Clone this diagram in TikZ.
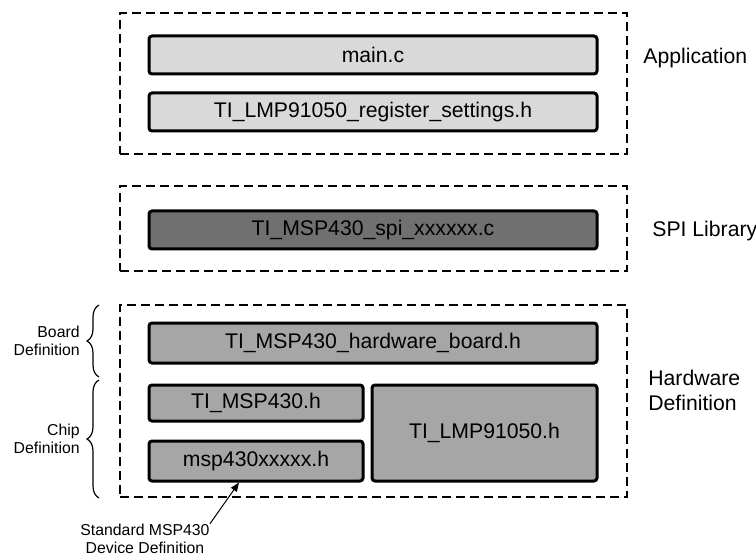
\documentclass[tikz,border=0pt]{standalone}
\usepackage{fontspec}
\setmainfont{Liberation Sans}
\usepackage{xcolor}
\usepackage{tikz}
\usetikzlibrary{arrows.meta, positioning, decorations.pathreplacing, calc}

\definecolor{appgray}{HTML}{D9D9D9}
\definecolor{spigray}{HTML}{707070}
\definecolor{hwgray}{HTML}{A6A6A6}

\begin{document}
\begin{tikzpicture}[x=0.5pt, y=-0.5pt,
        group/.style={draw, line width=1pt, dash pattern=on 4.5pt off 2.5pt, minimum width=253.5pt, inner sep=0pt},
        file/.style={draw, line width=1.5pt, rounded corners=1.5pt, minimum width=224pt, minimum height=19pt, inner sep=0pt, font=\fontsize{10.6}{12.5}\selectfont},
        layer/.style={anchor=west, align=left, inner sep=0pt, font=\fontsize{10.6}{12.5}\selectfont},
        side/.style={anchor=east, align=right, inner sep=0pt, font=\fontsize{7.9}{9}\selectfont},
        curly/.style={decorate, decoration={brace, amplitude=6pt}, line width=0.6pt}]
        \useasboundingbox (0,0) rectangle (756,556);

        % --- Application ---
        \node[group, minimum height=70.5pt] (app) at (373.5, 83.5) {};
        \node[file, fill=appgray] (mainc) at (373, 55) {main.c};
        \node[file, fill=appgray] (regset) at (373, 112) {TI\_LMP91050\_register\_settings.h};
        \node[layer] (applbl) at (643, 58) {Application};

        % --- SPI Library ---
        \node[group, minimum height=42.5pt] (spi) at (373.5, 228.5) {};
        \node[file, fill=spigray] (spifile) at (373, 230) {TI\_MSP430\_spi\_xxxxxx.c};
        \node[layer] (spilbl) at (652, 231) {SPI Library};

        % --- Hardware Definition ---
        \node[group, minimum height=96pt] (hw) at (373, 401) {};
        \node[file, fill=hwgray, minimum height=20pt] (board) at (373, 343) {TI\_MSP430\_hardware\_board.h};
        \node[file, fill=hwgray, minimum width=107pt, minimum height=18pt] (msphdr) at (256, 403) {TI\_MSP430.h};
        \node[file, fill=hwgray, minimum width=107pt, minimum height=20pt] (mspdev) at (256, 461) {msp430xxxxx.h};
        \node[file, fill=hwgray, minimum width=112.5pt, minimum height=48pt] (lmp) at (484.5, 433) {TI\_LMP91050.h};
        \node[layer] (hwlbl) at (648, 390) {Hardware\\Definition};

        % Braces on the left
        \draw[curly] (99, 377) -- (99, 305);
        \node[side] (boardlbl) at (80, 341) {Board\\Definition};
        \draw[curly] (99, 498) -- (99, 380);
        \node[side] (chiplbl) at (80, 439) {Chip\\Definition};

        % Standard device file
        \node[align=center, inner sep=0pt, font=\fontsize{7.9}{9}\selectfont] (stdlbl) at (145, 539) {Standard MSP430\\Device Definition};
        \draw[-{Triangle[length=4.5pt, width=3.5pt]}, line width=0.5pt] (stdlbl.north east) -- ([xshift=-8.5pt]mspdev.south);
    \end{tikzpicture}
\end{document}
